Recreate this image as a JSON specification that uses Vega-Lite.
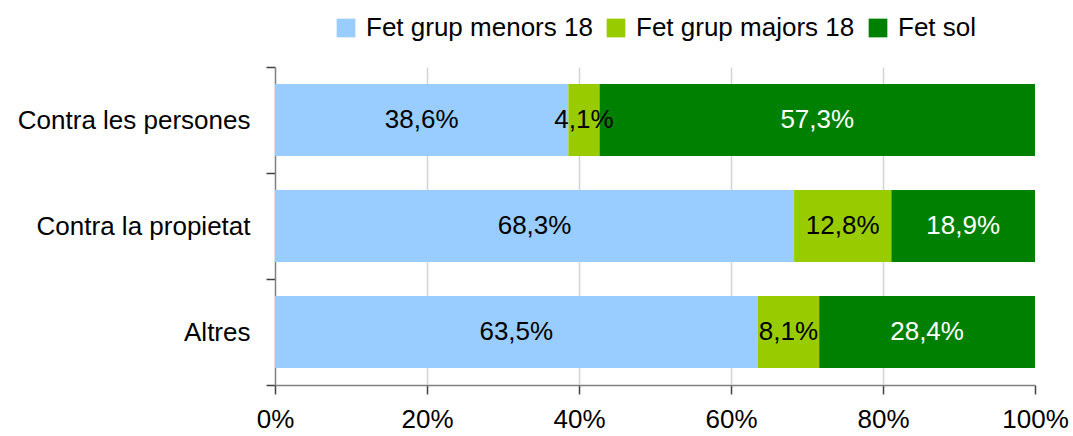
{
  "$schema": "https://vega.github.io/schema/vega-lite/v6.json",
  "width": 760,
  "height": 318,
  "autosize": "none",
  "padding": {"left": 275, "top": 67, "right": 38, "bottom": 51},
  "background": "white",
  "config": {
    "font": "Liberation Sans",
    "view": {"stroke": null},
    "axis": {"labelFont": "Liberation Sans", "labelFontSize": 26, "labelColor": "black", "titleFont": "Liberation Sans", "labelLimit": 0},
    "legend": {"labelFont": "Liberation Sans", "labelFontSize": 26, "labelColor": "black", "labelLimit": 0}
  },
  "data": {
    "values": [
      {"cat": "Contra les persones", "serie": "Fet grup menors 18", "k": 1, "v": 38.6},
      {"cat": "Contra les persones", "serie": "Fet grup majors 18", "k": 2, "v": 4.1},
      {"cat": "Contra les persones", "serie": "Fet sol", "k": 3, "v": 57.3},
      {"cat": "Contra la propietat", "serie": "Fet grup menors 18", "k": 1, "v": 68.3},
      {"cat": "Contra la propietat", "serie": "Fet grup majors 18", "k": 2, "v": 12.8},
      {"cat": "Contra la propietat", "serie": "Fet sol", "k": 3, "v": 18.9},
      {"cat": "Altres", "serie": "Fet grup menors 18", "k": 1, "v": 63.5},
      {"cat": "Altres", "serie": "Fet grup majors 18", "k": 2, "v": 8.1},
      {"cat": "Altres", "serie": "Fet sol", "k": 3, "v": 28.4}
    ]
  },
  "transform": [
    {"stack": "v", "groupby": ["cat"], "sort": [{"field": "k", "order": "ascending"}], "as": ["v0", "v1"]},
    {"calculate": "(datum.v0 + datum.v1) / 2", "as": "mid"},
    {"calculate": "replace(format(datum.v, '.1f'), '.', ',') + '%'", "as": "lbl"}
  ],
  "encoding": {
    "y": {
      "field": "cat",
      "type": "nominal",
      "sort": ["Contra les persones", "Contra la propietat", "Altres"],
      "scale": {"paddingInner": 0, "paddingOuter": 0},
      "axis": {
        "title": null,
        "tickBand": "extent",
        "tickSize": 9,
        "tickColor": "#404040",
        "domainColor": "#808080",
        "domainWidth": 1.5,
        "tickWidth": 1.5,
        "labelPadding": 16,
        "grid": false
      }
    }
  },
  "layer": [
    {
      "mark": {"type": "bar", "height": {"band": 0.68}},
      "encoding": {
        "x": {
          "field": "v0",
          "type": "quantitative",
          "scale": {"domain": [0, 100], "nice": false},
          "axis": {
            "title": null,
            "values": [0, 20, 40, 60, 80, 100],
            "labelExpr": "datum.value + '%'",
            "tickSize": 9,
            "tickColor": "#404040",
            "tickWidth": 1.5,
            "domainColor": "#808080",
            "domainWidth": 1.5,
            "labelPadding": 12,
            "grid": true,
            "gridColor": {"condition": {"test": "datum.value === 100 || datum.value === 0", "value": "transparent"}, "value": "#d4d4d4"},
            "gridWidth": 1.5,
            "labelFlush": false
          }
        },
        "x2": {"field": "v1"},
        "color": {
          "field": "serie",
          "type": "nominal",
          "sort": ["Fet grup menors 18", "Fet grup majors 18", "Fet sol"],
          "scale": {
            "domain": ["Fet grup menors 18", "Fet grup majors 18", "Fet sol"],
            "range": ["#99CCFF", "#99CC00", "#008000"]
          },
          "legend": {
            "title": null,
            "orient": "none",
            "direction": "horizontal",
            "legendX": 58,
            "legendY": -52,
            "symbolType": "square",
            "symbolSize": 350,
            "symbolStrokeWidth": 0,
            "symbolOpacity": 1,
            "labelOffset": 7,
            "columnPadding": 10,
            "padding": 0
          }
        },
        "order": {"field": "k"}
      }
    },
    {
      "mark": {"type": "text", "fontSize": 26, "font": "Liberation Sans", "align": "center", "baseline": "middle"},
      "encoding": {
        "x": {"field": "mid", "type": "quantitative"},
        "text": {"field": "lbl"},
        "color": {"condition": {"test": "datum.serie === 'Fet sol'", "value": "white"}, "value": "black"}
      }
    }
  ]
}
